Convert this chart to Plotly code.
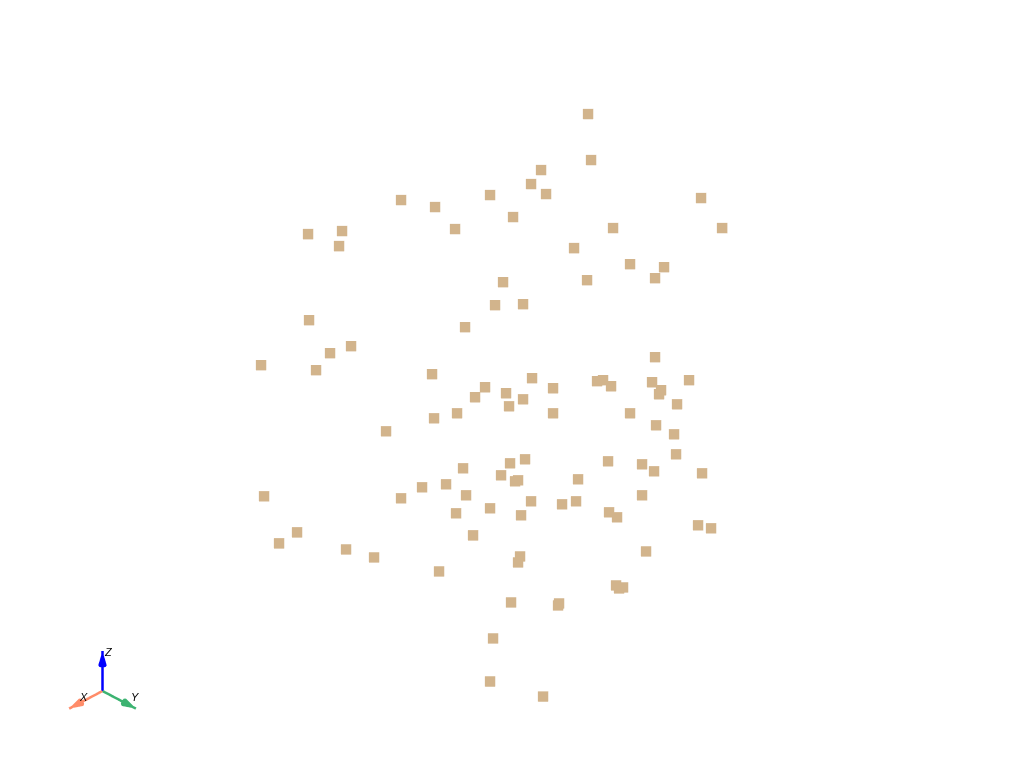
import plotly.graph_objects as go

# Point positions: horizontal and vertical position
point_h = [76,79,29,19,34,-22,-111,-77,189,1,-57,101,210,-204,-170,-173,62,118,152,143,75,-9,-17,11,-203,-47,-161,-182,-251,-196,143,-80,20,85,91,99,140,177,149,147,41,-27,-37,-6,11,-3,165,41,-55,-78,118,-126,144,162,13,-2,-49,-11,3,6,96,130,142,164,190,66,-90,-66,-46,-111,-248,19,50,64,130,-22,-56,9,97,105,-215,-233,-39,186,199,-166,-138,8,6,134,-73,104,111,107,-1,47,46,-19,-22,31]
point_v = [270,224,214,200,190,189,184,177,186,167,155,156,156,150,153,138,136,120,117,106,104,102,79,80,64,57,38,31,19,14,27,10,6,3,4,-2,2,4,-6,-10,-4,-3,-13,-9,-15,-22,-20,-29,-29,-34,-29,-47,-41,-50,-75,-79,-84,-91,-97,-96,-77,-80,-87,-70,-89,-95,-103,-100,-111,-114,-112,-117,-120,-117,-111,-124,-129,-131,-128,-133,-148,-159,-151,-141,-144,-165,-173,-172,-178,-167,-187,-201,-203,-204,-218,-219,-221,-254,-297,-312]

# Orientation triad
axis_names = ["X", "Y", "Z"]
axis_colors = ["#FF8C69", "#3CB371", "#0000FF"]
axis_tips = [[1, 0, 0], [0, 1, 0], [0, 0, 1]]
label_shift_x = [15, -1, 6]
label_shift_y = [12, 12, -1]

TAN = "#D2B48C"
EYE = dict(x=1.0, y=1.0, z=0.88)

fig = go.Figure()
fig.add_trace(go.Scatter3d(
    x=[-h for h in point_h], y=point_h, z=point_v,
    mode="markers",
    marker=dict(symbol="square", size=5.4, color=TAN, opacity=1, line=dict(width=0)),
    showlegend=False, hoverinfo="skip", scene="scene",
))

for name, color, tip in zip(axis_names, axis_colors, axis_tips):
    fig.add_trace(go.Scatter3d(
        x=[0, tip[0]], y=[0, tip[1]], z=[0, tip[2]],
        mode="lines", line=dict(color=color, width=5),
        showlegend=False, hoverinfo="skip", scene="scene2",
    ))
    fig.add_trace(go.Cone(
        x=[tip[0]], y=[tip[1]], z=[tip[2]],
        u=[tip[0]], v=[tip[1]], w=[tip[2]],
        anchor="tip", sizemode="absolute", sizeref=0.36,
        colorscale=[[0, color], [1, color]], showscale=False,
        lighting=dict(ambient=1, diffuse=0, specular=0),
        hoverinfo="skip", scene="scene2",
    ))

hidden = dict(visible=False, showspikes=False)
fig.update_layout(
    width=1024, height=768,
    margin=dict(l=0, r=0, t=0, b=0),
    paper_bgcolor="white",
    showlegend=False,
    scene=dict(
        domain=dict(x=[0, 1], y=[0, 1]),
        xaxis=dict(range=[-271.5, 271.5], **hidden),
        yaxis=dict(range=[-271.5, 271.5], **hidden),
        zaxis=dict(range=[-316.8, 316.8], **hidden),
        aspectmode="manual",
        aspectratio=dict(x=1, y=1, z=1.945),
        camera=dict(eye=EYE, up=dict(x=0, y=0, z=1),
                    center=dict(x=0, y=0, z=0),
                    projection=dict(type="orthographic")),
    ),
    scene2=dict(
        domain=dict(x=[0.03, 0.17], y=[0.01, 0.19]),
        xaxis=dict(range=[-1.5, 1.5], **hidden),
        yaxis=dict(range=[-1.5, 1.5], **hidden),
        zaxis=dict(range=[-1.5, 1.5], **hidden),
        aspectmode="manual",
        aspectratio=dict(x=2.05, y=2.05, z=2.05),
        camera=dict(eye=EYE, up=dict(x=0, y=0, z=1),
                    center=dict(x=0, y=0, z=0),
                    projection=dict(type="orthographic")),
        annotations=[
            dict(x=t[0], y=t[1], z=t[2], text=f"<i>{n}</i>", showarrow=False,
                 font=dict(family="Liberation Sans", size=11, color="black"),
                 xshift=sx, yshift=sy)
            for n, t, sx, sy in zip(axis_names, axis_tips, label_shift_x, label_shift_y)
        ],
    ),
)
fig.write_html("out.html", config=dict(displayModeBar=False),
               post_script="document.body.style.margin='0';")
